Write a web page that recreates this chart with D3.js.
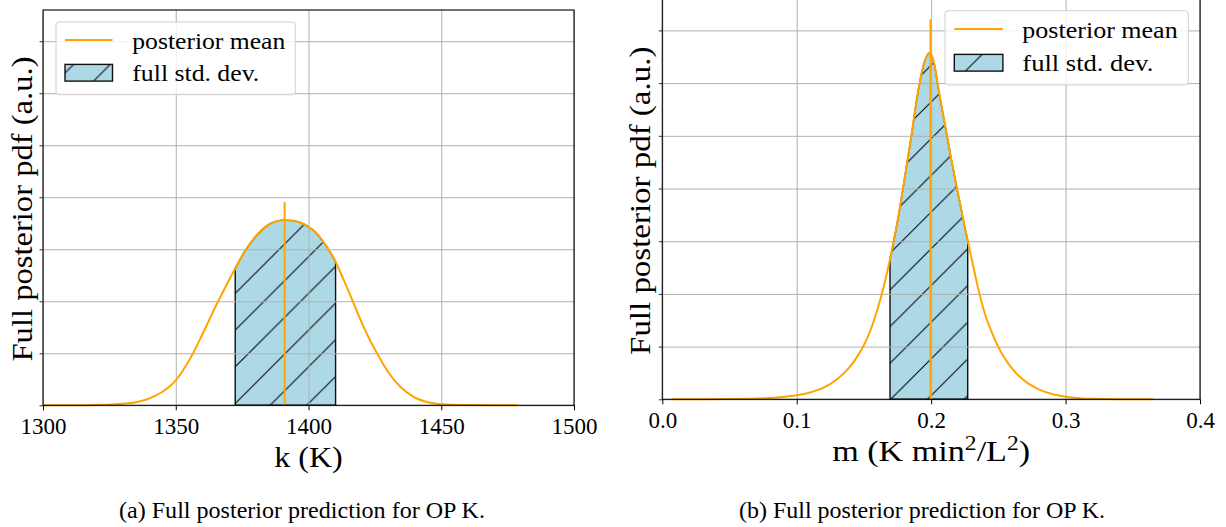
<!DOCTYPE html>
<html>
<head>
<meta charset="utf-8">
<script src="https://cdn.jsdelivr.net/npm/d3@7"></script>
<style>
body { margin: 0; background: #fff; }
svg text { font-family: "Liberation Serif", "Times New Roman", "DejaVu Serif", serif; fill: #000; }
</style>
</head>
<body>
<svg id="fig"></svg>
<script>
// panel (a): k
var kGrid = [1300, 1310, 1320, 1330, 1335, 1340, 1345, 1350, 1355, 1360, 1365, 1370, 1372.4, 1376, 1380, 1384, 1388, 1391, 1394, 1397, 1400, 1402.4, 1405, 1407, 1410.2, 1413, 1417, 1421, 1426, 1430, 1434.5, 1440, 1445, 1450, 1460, 1470, 1478.5];
var kPdf  = [0, 0.002, 0.008, 0.03, 0.06, 0.13, 0.26, 0.48, 0.86, 1.36, 1.9, 2.4, 2.63, 2.96, 3.24, 3.44, 3.54, 3.56, 3.55, 3.51, 3.43, 3.34, 3.18, 3.04, 2.76, 2.44, 1.96, 1.48, 0.98, 0.64, 0.36, 0.15, 0.06, 0.02, 0.005, 0.001, 0];
var kMean = 1391, kMeanTop = 3.91;
var kBand = [1372.4, 1410.2];
var kTicks = [1300, 1350, 1400, 1450, 1500];

// panel (b): m
var mGrid = [0.007, 0.03, 0.05, 0.07, 0.08, 0.09, 0.1, 0.11, 0.12, 0.13, 0.14, 0.145, 0.15, 0.155, 0.16, 0.165, 0.17, 0.175, 0.18, 0.185, 0.19, 0.195, 0.1987, 0.2022, 0.205, 0.21, 0.215, 0.22, 0.225, 0.23, 0.235, 0.24, 0.245, 0.25, 0.255, 0.26, 0.265, 0.27, 0.28, 0.29, 0.3, 0.31, 0.32, 0.34, 0.365];
var mPdf  = [0, 0.001, 0.004, 0.013, 0.025, 0.045, 0.075, 0.13, 0.22, 0.38, 0.63, 0.81, 1.03, 1.32, 1.7, 2.17, 2.73, 3.38, 4.15, 4.95, 5.8, 6.4, 6.57, 6.38, 5.95, 5.25, 4.55, 3.9, 3.27, 2.68, 2.1, 1.62, 1.28, 0.99, 0.77, 0.59, 0.45, 0.34, 0.19, 0.1, 0.05, 0.022, 0.009, 0.002, 0];
var mMean = 0.1995, mMeanTop = 7.21;
var mBand = [0.1694, 0.2272];
var mTicks = [0, 0.1, 0.2, 0.3, 0.4];

var yTicks = [0, 1, 2, 3, 4, 5, 6, 7];
var yMax = 7.6;
var legendLabels = ["posterior mean", "full std. dev."];
var yLabel = "Full posterior pdf (a.u.)";
var captions = ["(a) Full posterior prediction for OP K.", "(b) Full posterior prediction for OP K."];

var FONT = "'Liberation Serif', 'DejaVu Serif', serif";
var W = 1226, H = 527;
var svg = d3.select("#fig").attr("width", W).attr("height", H);
var defs = svg.append("defs");
var P = 36.7;

function hatch(id, phase) {
  var pat = defs.append("pattern")
      .attr("id", id)
      .attr("patternUnits", "userSpaceOnUse")
      .attr("width", P).attr("height", P)
      .attr("x", phase).attr("y", 0);
  pat.append("rect").attr("width", P).attr("height", P).attr("fill", "#add8e6");
  pat.append("path")
      .attr("d", "M0," + P + "L" + P + ",0M-2,2L2,-2M" + (P - 2) + "," + (P + 2) + "L" + (P + 2) + "," + (P - 2))
      .attr("stroke", "#000").attr("stroke-width", 1);
}
hatch("hA", 14.8);
hatch("hB", 5.5);
hatch("hLA", 27.9);
hatch("hLB", 8.9);

function panel(c) {
  var x = d3.scaleLinear().domain(c.xDomain).range([c.left, c.right]);
  var y = d3.scaleLinear().domain([0, yMax]).range([c.bottom, c.top]);
  var g = svg.append("g").attr("font-family", FONT);
  var pts = c.xs.map(function(d, i) { return [d, c.ys[i]]; });

  var bis = d3.bisector(function(d) { return d[0]; }).left;
  function interp(v) {
    var i = bis(pts, v);
    var a = pts[i - 1], b = pts[i];
    return a[1] + (b[1] - a[1]) * (v - a[0]) / (b[0] - a[0]);
  }
  var inner = pts.filter(function(d) { return d[0] > c.band[0] && d[0] < c.band[1]; });
  var bandPts = [[c.band[0], interp(c.band[0])]].concat(inner, [[c.band[1], interp(c.band[1])]]);

  var area = d3.area()
      .x(function(d) { return x(d[0]); })
      .y0(y(0))
      .y1(function(d) { return y(d[1]); })
      .curve(d3.curveMonotoneX);
  g.append("path").datum(bandPts)
      .attr("d", area)
      .attr("fill", "url(#" + c.hatchId + ")")
      .attr("stroke", "#111").attr("stroke-width", 1.4);

  // grid
  var gx = g.append("g").attr("transform", "translate(0," + c.bottom + ")")
      .call(d3.axisBottom(x).tickValues(c.ticks).tickSize(-(c.bottom - c.top)).tickFormat(""));
  var gy = g.append("g").attr("transform", "translate(" + c.left + ",0)")
      .call(d3.axisLeft(y).tickValues(yTicks).tickSize(-(c.right - c.left)).tickFormat(""));
  [gx, gy].forEach(function(s) {
    s.select(".domain").remove();
    s.selectAll("line").attr("stroke", "#b0b0b0").attr("stroke-width", 1);
  });

  // curve + mean
  var line = d3.line()
      .x(function(d) { return x(d[0]); })
      .y(function(d) { return y(d[1]); })
      .curve(d3.curveMonotoneX);
  g.append("path").datum(pts)
      .attr("d", line)
      .attr("fill", "none").attr("stroke", "orange").attr("stroke-width", 2);
  g.append("line")
      .attr("x1", x(c.mean)).attr("x2", x(c.mean))
      .attr("y1", y(0)).attr("y2", y(c.meanTop))
      .attr("stroke", "orange").attr("stroke-width", 2);

  // axes
  var ax = g.append("g").attr("transform", "translate(0," + c.bottom + ")")
      .call(d3.axisBottom(x).tickValues(c.ticks).tickSize(5).tickFormat(c.fmt))
      .attr("font-family", FONT).attr("font-size", 23);
  ax.select(".domain").remove();
  ax.selectAll("line").attr("stroke", "#000").attr("stroke-width", 1);
  ax.selectAll("text").attr("y", 28.7).attr("dy", null).attr("fill", "#000");
  var ay = g.append("g").attr("transform", "translate(" + c.left + ",0)")
      .call(d3.axisLeft(y).tickValues(yTicks).tickSize(3.5).tickFormat(""));
  ay.select(".domain").remove();
  ay.selectAll("line").attr("stroke", "#000").attr("stroke-width", 0.8);

  g.append("rect")
      .attr("x", c.left).attr("y", c.top)
      .attr("width", c.right - c.left).attr("height", c.bottom - c.top)
      .attr("fill", "none").attr("stroke", "#000").attr("stroke-width", 1.1);

  // legend
  var L = c.legend;
  var lg = g.append("g");
  lg.append("rect")
      .attr("x", L.x).attr("y", L.y).attr("width", L.w).attr("height", L.h)
      .attr("rx", 3).attr("ry", 3)
      .attr("fill", "#fff").attr("fill-opacity", 0.8)
      .attr("stroke", "#d0d0d0").attr("stroke-width", 1);
  lg.append("line")
      .attr("x1", L.hx).attr("x2", L.hx + L.hw)
      .attr("y1", L.row1).attr("y2", L.row1)
      .attr("stroke", "orange").attr("stroke-width", 2);
  lg.append("rect")
      .attr("x", L.hx).attr("y", L.row2 - 8.3)
      .attr("width", L.hw).attr("height", 16.7)
      .attr("fill", "url(#" + L.hatchId + ")")
      .attr("stroke", "#111").attr("stroke-width", 1.4);
  legendLabels.forEach(function(t, i) {
    lg.append("text")
        .attr("x", L.tx).attr("y", (i ? L.row2 : L.row1) + 8.5)
        .attr("textLength", L.tw[i]).attr("lengthAdjust", "spacingAndGlyphs")
        .attr("font-size", 24)
        .text(t);
  });

  // y label
  g.append("text")
      .attr("transform", "translate(" + c.yLabelX + "," + c.yLabelY + ") rotate(-90)")
      .attr("text-anchor", "middle")
      .attr("textLength", c.yLabelW).attr("lengthAdjust", "spacingAndGlyphs")
      .attr("font-size", 30)
      .text(yLabel);

  // x label
  var cx = (c.left + c.right) / 2;
  var xl = g.append("text")
      .attr("x", cx).attr("y", c.xLabelY)
      .attr("text-anchor", "middle")
      .attr("font-size", 29);
  c.xLabel(xl);
  var s = c.xLabelW / xl.node().getBBox().width;
  xl.attr("transform", "translate(" + cx + ",0) scale(" + s + ",1) translate(" + (-cx) + ",0)");

  // caption
  g.append("text")
      .attr("x", c.capX).attr("y", 518)
      .attr("text-anchor", "middle")
      .attr("textLength", 366).attr("lengthAdjust", "spacingAndGlyphs")
      .attr("font-size", 23)
      .text(c.caption);
}

panel({
  xs: kGrid, ys: kPdf, mean: kMean, meanTop: kMeanTop, band: kBand,
  xDomain: [1300, 1500], ticks: kTicks, fmt: d3.format("d"),
  left: 43, right: 574, top: 10, bottom: 405.3,
  hatchId: "hA",
  legend: { x: 56, y: 22, w: 239.3, h: 72.7, hx: 65, hw: 47.5, row1: 40, row2: 72.7, tx: 132.3, tw: [153, 127], hatchId: "hLA" },
  yLabelX: 31.7, yLabelY: 209, yLabelW: 305,
  xLabelY: 467, xLabelW: 68.7,
  xLabel: function(t) { t.text("k (K)"); },
  capX: 302, caption: captions[0]
});

panel({
  xs: mGrid, ys: mPdf, mean: mMean, meanTop: mMeanTop, band: mBand,
  xDomain: [0, 0.4], ticks: mTicks, fmt: d3.format(".1f"),
  left: 662.3, right: 1200, top: -1.2, bottom: 399.3,
  hatchId: "hB",
  legend: { x: 945, y: 10.7, w: 243.3, h: 74.3, hx: 954.3, hw: 48.6, row1: 29, row2: 62.7, tx: 1022.3, tw: [155.4, 131], hatchId: "hLB" },
  yLabelX: 650, yLabelY: 200.8, yLabelW: 308.3,
  xLabelY: 461, xLabelW: 198,
  xLabel: function(t) {
    t.append("tspan").text("m (K min");
    t.append("tspan").attr("dy", -11).attr("font-size", 20).text("2");
    t.append("tspan").attr("dy", 11).text("/L");
    t.append("tspan").attr("dy", -11).attr("font-size", 20).text("2");
    t.append("tspan").attr("dy", 11).text(")");
  },
  capX: 922, caption: captions[1]
});
</script>
</body>
</html>
